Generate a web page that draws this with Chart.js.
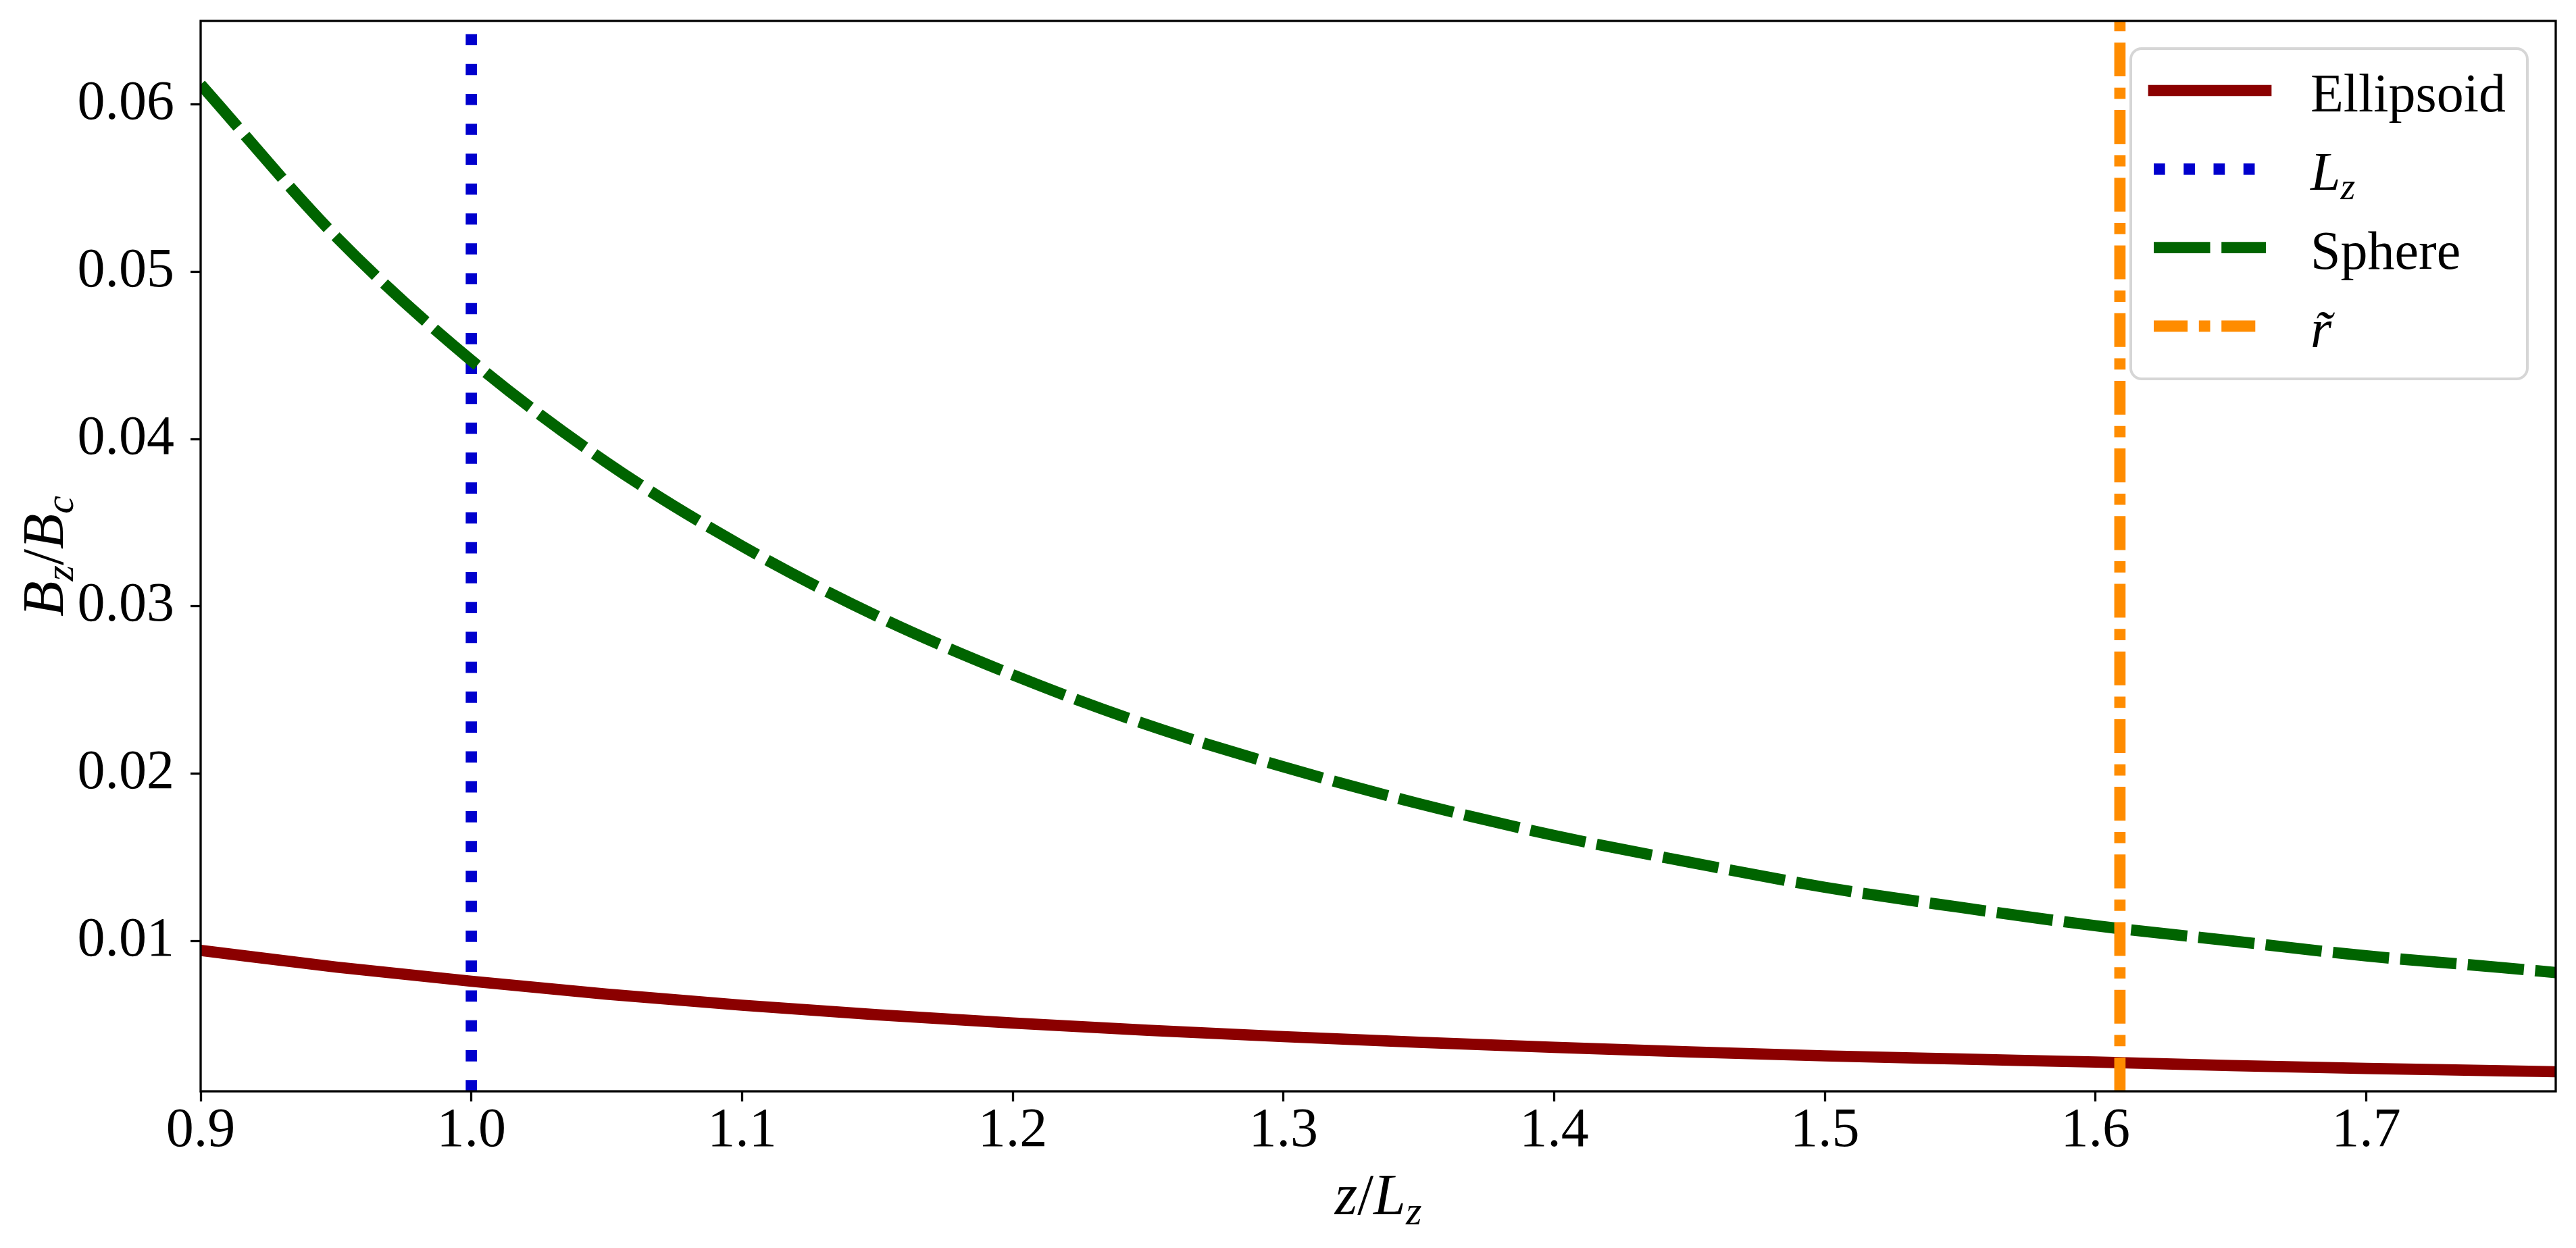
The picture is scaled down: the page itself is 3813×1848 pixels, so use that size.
<!DOCTYPE html>
<html lang="en">
<head>
<meta charset="UTF-8">
<title>B_z / B_c along z / L_z</title>
<script src="https://cdn.jsdelivr.net/npm/chart.js@4.4.1/dist/chart.umd.min.js"></script>
<style>
    html, body { margin: 0; padding: 0; background: #fff; }
    #wrap { width: 3813px; height: 1848px; }
</style>
</head>
<body>
<div id="wrap"><canvas id="chart" width="3813" height="1848"></canvas></div>
<script>
// values
const zValues = [0.90, 0.95, 1.00, 1.05, 1.10, 1.15, 1.20, 1.25, 1.30, 1.35, 1.40, 1.45, 1.50, 1.55, 1.60, 1.65, 1.70, 1.75, 1.77];
const ellipsoidField = [0.00943, 0.00843, 0.00758, 0.00681, 0.00615, 0.00558, 0.00508, 0.00465, 0.00427, 0.00393, 0.00363, 0.00336, 0.00312, 0.00293, 0.00275, 0.00254, 0.00237, 0.00223, 0.00217];
const sphereField = [0.0612, 0.0521, 0.0447, 0.0386, 0.0336, 0.0294, 0.0259, 0.0229, 0.0204, 0.0182, 0.0163, 0.0147, 0.0132, 0.0120, 0.0109, 0.0100, 0.0091, 0.0084, 0.0081];
const lzPosition = 1.0;
const rTildePosition = 1.609;
const xTicks = [0.9, 1.0, 1.1, 1.2, 1.3, 1.4, 1.5, 1.6, 1.7];
const yTicks = [0.01, 0.02, 0.03, 0.04, 0.05, 0.06];
const xRange = [0.9, 1.77];
const yRange = [0.001, 0.065];

const LW = 16.7;
const FONT = '"Liberation Serif", "DejaVu Serif", serif';

// math-ish text: [text, italic, subscript]
function drawMath(ctx, parts, x, y, size, align) {
    const fontFor = p => (p[1] ? 'italic ' : '') + (p[2] ? size * 0.7 : size) + 'px ' + FONT;
    let w = 0;
    parts.forEach(p => { ctx.font = fontFor(p); w += ctx.measureText(p[0]).width; });
    let cx = align === 'center' ? x - w / 2 : x;
    ctx.textAlign = 'left';
    ctx.textBaseline = 'alphabetic';
    parts.forEach(p => {
        ctx.font = fontFor(p);
        ctx.fillText(p[0], cx, y + (p[2] ? size * 0.17 : 0));
        cx += ctx.measureText(p[0]).width;
    });
}

const xTitle = [['z', true], ['/', false], ['L', true], ['z', true, true]];
const yTitle = [['B', true], ['z', true, true], ['/', false], ['B', true], ['c', true, true]];

function vline(x) {
    return [{ x: x, y: yRange[0] }, { x: x, y: yRange[1] }];
}

const frameAndTitles = {
    id: 'frameAndTitles',
    afterDatasetsDraw(chart) {
        const ctx = chart.ctx, a = chart.chartArea;
        ctx.save();
        ctx.strokeStyle = '#000';
        ctx.lineWidth = 3.3;
        ctx.setLineDash([]);
        ctx.strokeRect(a.left, a.top, a.right - a.left, a.bottom - a.top);
        ctx.fillStyle = '#000';
        drawMath(ctx, xTitle, (a.left + a.right) / 2, 1798, 86, 'center');
        ctx.translate(93, (a.top + a.bottom) / 2);
        ctx.rotate(-Math.PI / 2);
        drawMath(ctx, yTitle, 0, 0, 86, 'center');
        ctx.restore();
    }
};

const mplLegend = {
    id: 'mplLegend',
    afterDraw(chart) {
        const ctx = chart.ctx;
        const bx = 3154, by = 72, bw = 587, bh = 489, r = 16;
        ctx.save();
        ctx.beginPath();
        ctx.roundRect(bx, by, bw, bh, r);
        ctx.fillStyle = 'rgba(255,255,255,0.8)';
        ctx.fill();
        ctx.lineWidth = 4;
        ctx.strokeStyle = '#d6d6d6';
        ctx.stroke();
        chart.data.datasets.forEach((ds, i) => {
            const y = 134 + i * 116.3;
            ctx.beginPath();
            ctx.strokeStyle = ds.borderColor;
            ctx.lineWidth = ds.borderWidth;
            ctx.setLineDash(ds.borderDash || []);
            ctx.lineCap = ds.borderDash ? 'butt' : 'square';
            ctx.moveTo(3188, y);
            ctx.lineTo(3354, y);
            ctx.stroke();
            ctx.fillStyle = '#000';
            drawMath(ctx, ds.mathLabel, 3420, y + 31, 80, 'left');
        });
        ctx.restore();
    }
};

const common = { pointRadius: 0, fill: false, clip: 0, borderWidth: LW, borderJoinStyle: 'round' };

new Chart(document.getElementById('chart'), {
    type: 'line',
    data: {
        datasets: [
            Object.assign({}, common, {
                label: 'Ellipsoid', mathLabel: [['Ellipsoid', false]],
                data: zValues.map((z, i) => ({ x: z, y: ellipsoidField[i] })),
                borderColor: '#8b0000', cubicInterpolationMode: 'monotone', order: 4
            }),
            Object.assign({}, common, {
                label: 'L_z', mathLabel: [['L', true], ['z', true, true]],
                data: vline(lzPosition),
                borderColor: '#0000cd', borderDash: [LW, LW * 1.65], order: 3
            }),
            Object.assign({}, common, {
                label: 'Sphere', mathLabel: [['Sphere', false]],
                data: zValues.map((z, i) => ({ x: z, y: sphereField[i] })),
                borderColor: '#006400', borderDash: [LW * 5, LW], cubicInterpolationMode: 'monotone', order: 2
            }),
            Object.assign({}, common, {
                label: 'r\u0303', mathLabel: [['r\u0303', true]],
                data: vline(rTildePosition),
                borderColor: '#ff8c00', borderDash: [LW * 3, LW, LW, LW], order: 1
            })
        ]
    },
    options: {
        responsive: false,
        animation: false,
        devicePixelRatio: 1,
        layout: { padding: { top: 31, right: 30, left: 0, bottom: 0 } },
        plugins: { legend: { display: false }, tooltip: { enabled: false } },
        scales: {
            x: {
                type: 'linear', min: xRange[0], max: xRange[1],
                afterBuildTicks: s => { s.ticks = xTicks.map(v => ({ value: v })); },
                afterFit: s => { s.height = 232; s.paddingLeft = 0; s.paddingRight = 0; },
                grid: { drawOnChartArea: false, tickLength: 15, tickWidth: 3.3, tickColor: '#000' },
                border: { display: false },
                ticks: {
                    color: '#000', padding: 3, maxRotation: 0, autoSkip: false,
                    font: { family: FONT, size: 82, lineHeight: 1 },
                    callback: v => v.toFixed(1)
                }
            },
            y: {
                type: 'linear', min: yRange[0], max: yRange[1],
                afterBuildTicks: s => { s.ticks = yTicks.map(v => ({ value: v })); },
                afterFit: s => { s.width = 297; s.paddingTop = 0; s.paddingBottom = 0; },
                grid: { drawOnChartArea: false, tickLength: 15, tickWidth: 3.3, tickColor: '#000' },
                border: { display: false },
                ticks: {
                    color: '#000', padding: 24, autoSkip: false,
                    font: { family: FONT, size: 82, lineHeight: 1 },
                    callback: v => v.toFixed(2)
                }
            }
        }
    },
    plugins: [frameAndTitles, mplLegend]
});
</script>
</body>
</html>
